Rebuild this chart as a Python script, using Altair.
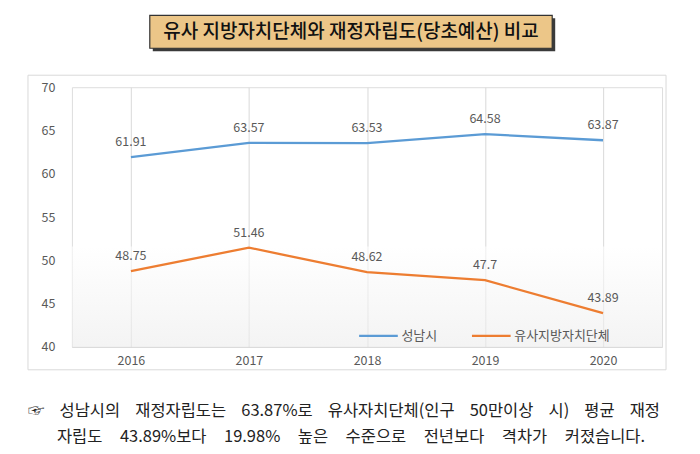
import altair as alt
import pandas as pd

years = ["2016", "2017", "2018", "2019", "2020"]
seongnam = [61.91, 63.57, 63.53, 64.58, 63.87]
similar = [48.75, 51.46, 48.62, 47.7, 43.89]
series_names = ["성남시", "유사지방자치단체"]
series_colors = ["#5B9BD5", "#ED7D31"]
y_ticks = [40, 45, 50, 55, 60, 65, 70]
title_text = "유사 지방자치단체와 재정자립도(당초예산) 비교"
note_line1 = ["☞", "성남시의", "재정자립도는", "63.87%로", "유사자치단체(인구", "50만이상", "시)", "평균", "재정"]
note_line2 = ["자립도", "43.89%보다", "19.98%", "높은", "수준으로", "전년보다", "격차가", "커졌습니다."]

rows = []
for y, v in zip(years, seongnam):
    rows.append({"year": y, "value": v, "series": series_names[0], "label": str(v)})
for y, v in zip(years, similar):
    rows.append({"year": y, "value": v, "series": series_names[1], "label": str(v)})
df = pd.DataFrame(rows)

W, H = 591, 260
FONT = "Noto Sans CJK KR"

xscale = alt.Scale(type="point", padding=0.5)
yscale = alt.Scale(domain=[40, 70])

one = pd.DataFrame({"a": [0]})

frame = alt.Chart(one).mark_rect(filled=False, stroke="#d9d9d9", strokeWidth=1).encode(
    x=alt.value(-44), x2=alt.value(595), y=alt.value(-12), y2=alt.value(283))

shade = alt.Chart(one).mark_rect(
    opacity=0.6,
    color=alt.LinearGradient(gradient="linear",
                             stops=[alt.GradientStop(color="#ffffff", offset=0),
                                    alt.GradientStop(color="#ececec", offset=1)],
                             x1=0, x2=0, y1=0, y2=1)
).encode(x=alt.value(0), x2=alt.value(W), y=alt.datum(51.6, scale=yscale), y2=alt.datum(40))

base = alt.Chart(df)

lines = base.mark_line(strokeWidth=2.3).encode(
    x=alt.X("year:N", scale=xscale, sort=years,
            axis=alt.Axis(title=None, labelAngle=0, grid=True, gridColor="#d9d9d9",
                          domainColor="#d9d9d9", ticks=False, labelColor="#595959",
                          labelFontSize=12.5, labelPadding=8, labelFont=FONT)),
    y=alt.Y("value:Q", scale=yscale,
            axis=alt.Axis(title=None, values=y_ticks, grid=False, domain=False, ticks=False,
                          labelColor="#595959", labelFontSize=12.5, labelPadding=17,
                          labelFont=FONT)),
    color=alt.Color("series:N", scale=alt.Scale(domain=series_names, range=series_colors),
                    legend=alt.Legend(title=None, orient="none", legendX=286, legendY=228,
                                      direction="horizontal", symbolType="stroke",
                                      symbolSize=1500, symbolStrokeWidth=2.3,
                                      labelFontSize=13, labelColor="#595959",
                                      labelFont=FONT, columnPadding=30, labelOffset=2)),
)

labels = base.mark_text(dy=-15, fontSize=12.5, color="#595959", font=FONT).encode(
    x=alt.X("year:N", scale=xscale, sort=years),
    y=alt.Y("value:Q", scale=yscale),
    text="label:N",
)

shadow = alt.Chart(one).mark_rect(color="#3a3a3a").encode(
    x=alt.value(81), x2=alt.value(484), y=alt.value(-69), y2=alt.value(-36))
tbox = alt.Chart(one).mark_rect(color="#ECC688", stroke="#333333", strokeWidth=1.2).encode(
    x=alt.value(78), x2=alt.value(481), y=alt.value(-72), y2=alt.value(-39))
ttext = alt.Chart(one).mark_text(text=title_text, fontSize=19, font=FONT, fontWeight=500,
                                 color="#111111", align="center", baseline="middle").encode(
    x=alt.value(279.5), y=alt.value(-55))

n1 = alt.Chart(one).mark_text(text="\u2002\u2005\u2006".join(note_line1), fontSize=16.5,
                              font=FONT, color="#222222", align="left",
                              baseline="middle").encode(
    x=alt.value(-44), y=alt.value(324))
n2 = alt.Chart(one).mark_text(text="\u2003\u200a".join(note_line2), fontSize=16.5, font=FONT,
                              color="#222222", align="left", baseline="middle").encode(
    x=alt.value(-15), y=alt.value(350))

chart = alt.layer(frame, shade, lines, labels, shadow, tbox, ttext, n1, n2).properties(
    width=W, height=H,
    autosize=alt.AutoSizeParams(type="none"),
    padding={"left": 64, "top": 79, "right": 30, "bottom": 99},
).configure_view(stroke=None).configure(background="white")

chart.save("out.html", embed_options={"renderer": "svg", "actions": False})
